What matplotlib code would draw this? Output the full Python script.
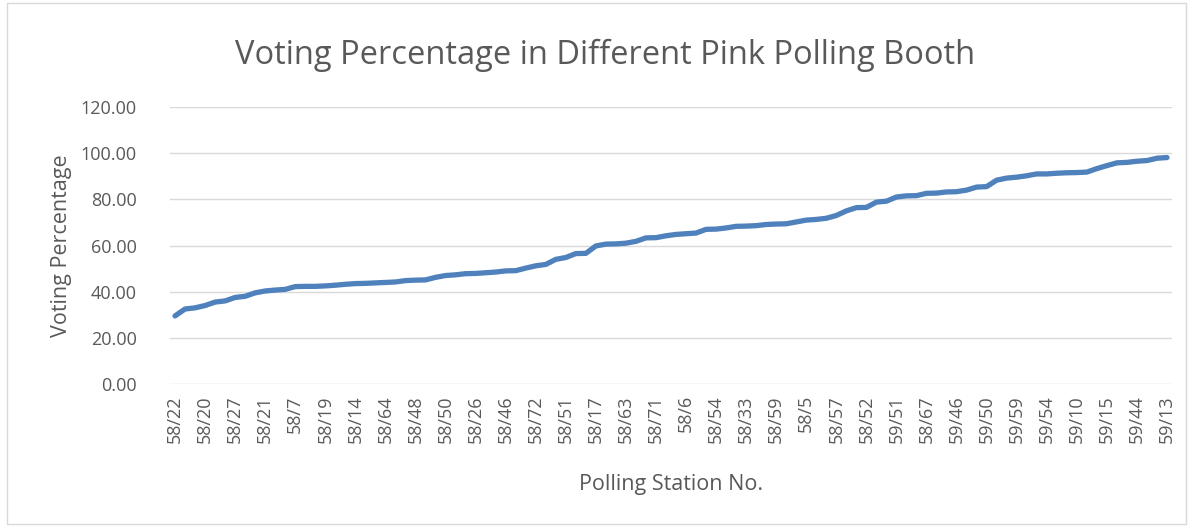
import numpy as np
import matplotlib
matplotlib.use("Agg")
import matplotlib.pyplot as plt
from matplotlib.patches import Rectangle

# voting percentage per booth, sorted ascending (100 booths)
voting = [29.5, 32.5, 33.0, 34.0, 35.5, 36.0, 37.5, 38.0, 39.5, 40.3,
          40.7, 41.0, 42.2, 42.3, 42.3, 42.5, 42.8, 43.2, 43.5, 43.6,
          43.8, 44.0, 44.2, 44.8, 45.0, 45.1, 46.2, 47.0, 47.3, 47.8,
          47.9, 48.2, 48.5, 49.0, 49.1, 50.2, 51.2, 51.8, 54.0, 54.8,
          56.5, 56.6, 59.8, 60.6, 60.7, 61.0, 61.8, 63.3, 63.4, 64.2,
          64.8, 65.1, 65.4, 67.0, 67.1, 67.6, 68.3, 68.4, 68.6, 69.1,
          69.3, 69.4, 70.2, 71.0, 71.3, 71.8, 73.0, 75.0, 76.4, 76.5,
          78.8, 79.2, 81.0, 81.5, 81.6, 82.6, 82.7, 83.2, 83.3, 84.0,
          85.3, 85.5, 88.3, 89.2, 89.6, 90.2, 91.0, 91.0, 91.3, 91.5,
          91.6, 91.8, 93.3, 94.6, 95.8, 96.0, 96.5, 96.8, 97.8, 98.1]

# only every third station name is shown on the axis
shown_labels = ["58/22", "58/20", "58/27", "58/21", "58/7", "58/19", "58/14",
                "58/64", "58/48", "58/50", "58/26", "58/46", "58/72", "58/51",
                "58/17", "58/63", "58/71", "58/6", "58/54", "58/33", "58/59",
                "58/5", "58/57", "58/52", "59/51", "58/67", "59/46", "59/50",
                "59/59", "59/54", "59/10", "59/15", "59/44", "59/13"]

grey = "#595959"
plt.rcParams['font.family'] = ['Open Sans', 'DejaVu Sans']

fig = plt.figure(figsize=(11.93, 5.27), dpi=100)
fig.patches.append(Rectangle((0.006, 0.006), 0.988, 0.988, transform=fig.transFigure,
                             fill=False, edgecolor="#d9d9d9", linewidth=1))
ax = fig.add_axes([0.1425, 0.2713, 0.8399, 0.5257])

x = np.arange(len(voting))
ax.plot(x, voting, color="#4f81bd", linewidth=3.8, solid_capstyle="round",
        solid_joinstyle="round", zorder=3)

ax.set_xlim(-0.5, len(voting) - 0.5)
ax.set_ylim(0, 120)
ax.set_yticks(np.arange(0, 121, 20))
ax.set_yticklabels(["%.2f" % v for v in np.arange(0, 121, 20)])
ax.set_xticks(x[::3])
ax.set_xticklabels(shown_labels, rotation=90)

ax.grid(axis="y", color="#d9d9d9", linewidth=1)
ax.set_axisbelow(True)
for s in ax.spines.values():
    s.set_visible(False)
ax.tick_params(axis="both", length=0, colors=grey, labelsize=13)
ax.tick_params(axis="y", pad=24)
ax.tick_params(axis="x", pad=8)

ax.set_ylabel("Voting Percentage", color=grey, fontsize=15.5, labelpad=6)
ax.set_xlabel("Polling Station No.", color=grey, fontsize=15.5, labelpad=22)
fig.text(0.507, 0.895, "Voting Percentage in Different Pink Polling Booth",
         ha="center", va="center", color=grey, fontsize=23.5)

fig.savefig("out.png", dpi=100)
